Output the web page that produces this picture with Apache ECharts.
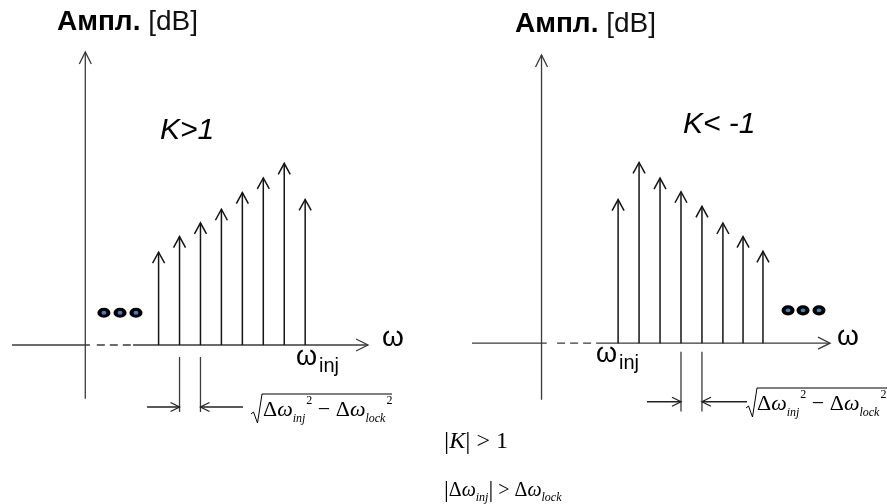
<!DOCTYPE html>
<html><head><meta charset="utf-8">
<script src="https://cdn.jsdelivr.net/npm/echarts@6/dist/echarts.min.js"></script>
<style>html,body{margin:0;padding:0;background:#fff}#c{width:887px;height:504px}</style>
</head><body><div id="c"></div>
<script>
// ---------- data (x in comb-spacing units from the amplitude axis, y in amplitude units) ----------
// Left panel: K > 1
const leftStemX = [3.5, 4.5, 5.5, 6.5, 7.5, 8.5, 9.5, 10.5];
const leftStemH = [9.5, 11.1, 12.5, 13.9, 15.6, 17.1, 18.6, 14.9];
const leftDotsX = [0.89, 1.66, 2.42];
const leftDotsY = [3.3, 3.3, 3.3];
const leftXRange = [-3.5, 13.5];
const leftYRange = [-5.5, 30];
const leftAxisStub = 0.22;
const leftDashed = [0.55, 2.28];
const leftMarkX = [4.5, 5.5];
const leftMarkY = [-1.23, -6.86];
const leftDimY = -6.35;
const leftDimTail = [2.95, 7.53];

// Right panel: K < -1
const rightStemX = [3.69, 4.70, 5.71, 6.72, 7.73, 8.74, 9.71, 10.67];
const rightStemH = [14.7, 18.5, 16.9, 15.5, 14.0, 12.3, 10.9, 9.4];
const rightDotsX = [11.88, 12.6, 13.37];
const rightDotsY = [3.36, 3.36, 3.36];
const rightXRange = [-3.35, 13.9];
const rightYRange = [-5.8, 29.5];
const rightAxisStub = 0.25;
const rightDashed = [0.75, 2.82];
const rightMarkX = [6.72, 7.73];
const rightMarkY = [-0.87, -7.0];
const rightDimY = -6.0;
const rightDimTail = [5.08, 9.9];

// ---------- helpers ----------
function chevron(a, b, L, W, color, width) {
  const dx = b[0] - a[0], dy = b[1] - a[1], len = Math.hypot(dx, dy) || 1;
  const ux = dx / len, uy = dy / len, nx = -uy, ny = ux;
  return {
    type: 'polyline',
    shape: { points: [[b[0] - ux * L + nx * W, b[1] - uy * L + ny * W], [b[0], b[1]], [b[0] - ux * L - nx * W, b[1] - uy * L - ny * W]] },
    style: { stroke: color, lineWidth: width, fill: null }
  };
}
function segSeries(gi, segs, o) {
  return {
    type: 'custom', coordinateSystem: 'cartesian2d', xAxisIndex: gi, yAxisIndex: gi,
    data: segs, silent: true, clip: false, animation: false,
    encode: { x: [0, 2], y: [1, 3] },
    renderItem: function (params, api) {
      const a = api.coord([api.value(0), api.value(1)]);
      const b = api.coord([api.value(2), api.value(3)]);
      const children = [{ type: 'line', shape: { x1: a[0], y1: a[1], x2: b[0], y2: b[1] },
        style: { stroke: o.color, lineWidth: o.width, lineDash: o.dash || null, fill: null } }];
      if (o.arrow) children.push(chevron(a, b, o.arrow[0], o.arrow[1], o.color, o.width));
      return { type: 'group', children: children };
    }
  };
}
function stemSeries(gi, xs, hs) {
  return {
    type: 'custom', coordinateSystem: 'cartesian2d', xAxisIndex: gi, yAxisIndex: gi,
    data: xs.map((x, i) => [x, hs[i]]), silent: true, clip: false, animation: false,
    encode: { x: 0, y: 1 },
    renderItem: function (params, api) {
      const a = api.coord([api.value(0), 0]);
      const b = api.coord([api.value(0), api.value(1)]);
      return { type: 'group', children: [
        { type: 'line', shape: { x1: a[0], y1: a[1], x2: b[0], y2: b[1] }, style: { stroke: '#141414', lineWidth: 1.5 } },
        chevron(a, b, 11, 6, '#141414', 1.5)
      ] };
    }
  };
}
function dotSeries(gi, xs, ys) {
  return {
    type: 'scatter', xAxisIndex: gi, yAxisIndex: gi, silent: true, animation: false,
    data: xs.map((x, i) => [x, ys[i]]), symbol: 'circle', symbolSize: [9, 7],
    itemStyle: { color: '#3f7fc8', borderColor: '#000', borderWidth: 3.6, opacity: 1 }
  };
}
function panelSeries(gi, P) {
  const axisC = '#3a3a3a';
  return [
    segSeries(gi, [[0, P.yr[0], 0, P.yr[1]], [P.dash[1], 0, P.xr[1], 0]], { color: axisC, width: 1.3, arrow: [12, 6] }),
    segSeries(gi, [[P.xr[0], 0, P.stub, 0]].concat(P.mx.map(m => [m, P.my[0], m, P.my[1]])), { color: axisC, width: 1.3 }),
    segSeries(gi, [[P.dash[0], 0, P.dash[1], 0]], { color: axisC, width: 1.3, dash: [8, 5] }),
    segSeries(gi, [[P.tail[0], P.dimY, P.mx[0], P.dimY], [P.tail[1], P.dimY, P.mx[1], P.dimY]], { color: '#222', width: 1.3, arrow: [9, 4.5] }),
    stemSeries(gi, P.sx, P.sh),
    dotSeries(gi, P.dx, P.dy)
  ];
}

const L = { xr: leftXRange, yr: leftYRange, stub: leftAxisStub, dash: leftDashed, mx: leftMarkX, my: leftMarkY,
  dimY: leftDimY, tail: leftDimTail, sx: leftStemX, sh: leftStemH, dx: leftDotsX, dy: leftDotsY };
const R = { xr: rightXRange, yr: rightYRange, stub: rightAxisStub, dash: rightDashed, mx: rightMarkX, my: rightMarkY,
  dimY: rightDimY, tail: rightDimTail, sx: rightStemX, sh: rightStemH, dx: rightDotsX, dy: rightDotsY };

const SANS = '"Liberation Sans", Arial, sans-serif';
const SERIF = '"Liberation Serif", "Times New Roman", serif';

function txt(x, y, text, font, extra) {
  return { type: 'text', x: x, y: y, silent: true,
    style: Object.assign({ text: text, font: font, fill: '#000', verticalAlign: 'middle', align: 'left' }, extra || {}) };
}
const titleRich = { b: { fontFamily: SANS, fontSize: 28, fontWeight: 'bold', fill: '#000' },
                    r: { fontFamily: SANS, fontSize: 28, fill: '#111' } };
const sqrtRich = function (fs) {
  return {
    d: { fontFamily: SERIF, fontSize: fs, lineHeight: 30, fill: '#000' },
    w: { fontFamily: SERIF, fontSize: fs, fontStyle: 'italic', fill: '#000' },
    s: { fontFamily: SERIF, fontSize: 12, fontStyle: 'italic', lineHeight: 12, verticalAlign: 'bottom', fill: '#000' },
    p: { fontFamily: SERIF, fontSize: 12, lineHeight: 12, verticalAlign: 'top', fill: '#000', padding: [0, 0, 0, 1] },
    o: { fontFamily: SERIF, fontSize: fs, fill: '#000' }
  };
};
const sqrtText = '{d|Δ}{w|ω}{s|inj}{p|2}{o| − }{d|Δ}{w|ω}{s|lock}{p|2}';
function radical(x0, yv, xEnd) {
  return { type: 'polyline', silent: true,
    shape: { points: [[x0, yv + 20], [x0 + 2.5, yv + 18], [x0 + 6.5, yv + 29], [x0 + 11, yv], [xEnd, yv]] },
    style: { stroke: '#000', lineWidth: 1, fill: null } };
}

const graphics = [
  txt(57, 22, '{b|Ампл.} {r|[dB]}', '28px ' + SANS, { rich: titleRich }),
  txt(515, 24, '{b|Ампл.} {r|[dB]}', '28px ' + SANS, { rich: titleRich }),
  txt(160, 131, 'K>1', 'italic 30px ' + SANS),
  txt(683, 125, 'K< -1', 'italic 30px ' + SANS),
  txt(382, 338, 'ω', '28px ' + SANS),
  txt(837, 337, 'ω', '28px ' + SANS),
  txt(296, 358, 'ω', '27px ' + SANS),
  txt(319, 366, 'inj', '20px ' + SANS),
  txt(596, 355, 'ω', '27px ' + SANS),
  txt(619, 363, 'inj', '20px ' + SANS),
  radical(251, 394, 392),
  txt(263, 410, sqrtText, '22px ' + SERIF, { rich: sqrtRich(22) }),
  radical(746, 388, 900),
  txt(757, 404, sqrtText, '22px ' + SERIF, { rich: sqrtRich(22) }),
  txt(444, 442, '{v||}{k|K}{v||}{t| > 1}', '24px ' + SERIF, { rich: {
    v: { fontFamily: SERIF, fontSize: 26 }, k: { fontFamily: SERIF, fontSize: 24, fontStyle: 'italic' }, t: { fontFamily: SERIF, fontSize: 24 } } }),
  txt(444, 491, '{v||}{t|Δ}{w|ω}{s|inj}{v||}{t| > Δ}{w|ω}{s|lock}', '20px ' + SERIF, { rich: {
    v: { fontFamily: SERIF, fontSize: 24, lineHeight: 26 }, t: { fontFamily: SERIF, fontSize: 20 },
    w: { fontFamily: SERIF, fontSize: 20, fontStyle: 'italic' },
    s: { fontFamily: SERIF, fontSize: 12, fontStyle: 'italic', lineHeight: 12, verticalAlign: 'bottom' } } })
];

const chart = echarts.init(document.getElementById('c'), null, { renderer: 'canvas' });
chart.setOption({
  backgroundColor: '#fff',
  animation: false,
  grid: [
    { left: 12, top: 52, width: 356, height: 346.7 },
    { left: 472, top: 55, width: 358, height: 344.8 }
  ],
  xAxis: [
    { type: 'value', gridIndex: 0, min: leftXRange[0], max: leftXRange[1], show: false },
    { type: 'value', gridIndex: 1, min: rightXRange[0], max: rightXRange[1], show: false }
  ],
  yAxis: [
    { type: 'value', gridIndex: 0, min: leftYRange[0], max: leftYRange[1], show: false },
    { type: 'value', gridIndex: 1, min: rightYRange[0], max: rightYRange[1], show: false }
  ],
  series: panelSeries(0, L).concat(panelSeries(1, R)),
  graphic: graphics
});
</script></body></html>
